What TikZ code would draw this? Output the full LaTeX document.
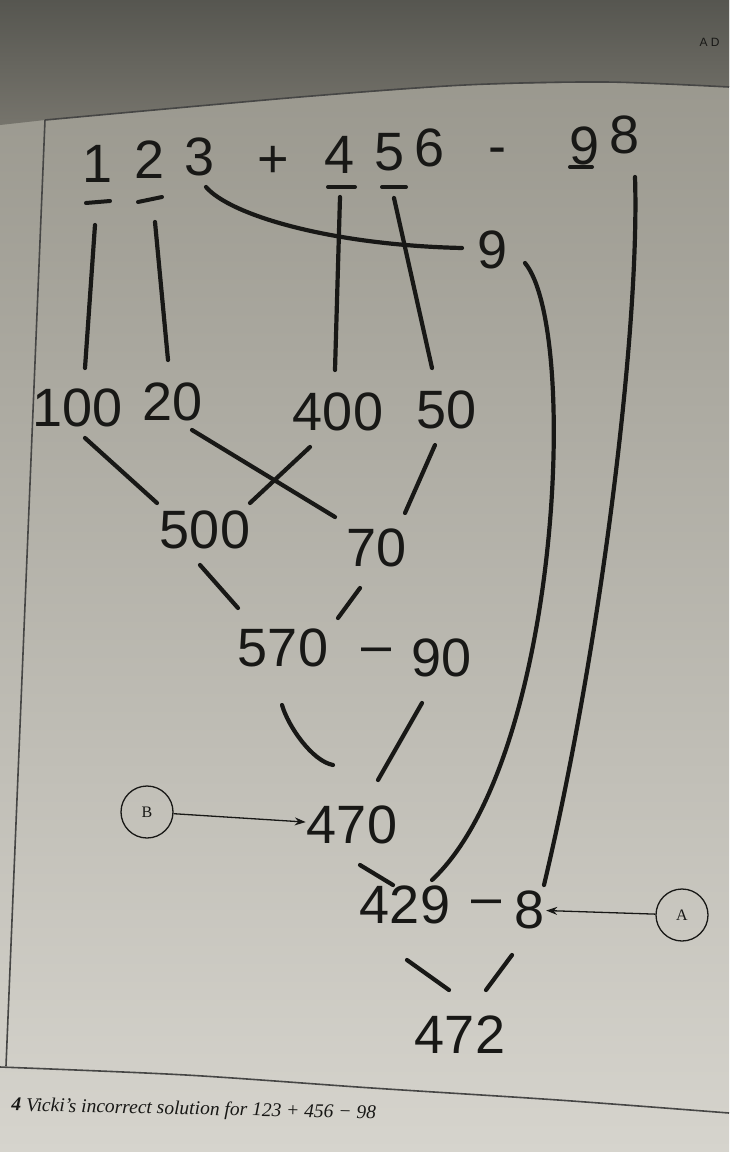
\documentclass[tikz,border=0pt]{standalone}
\usepackage{fontspec}
\setmainfont{Liberation Serif}
\setsansfont{Liberation Sans}
\usetikzlibrary{calc,arrows.meta}

\definecolor{ink}{RGB}{24,24,22}
\definecolor{page}{RGB}{198,196,188}
\definecolor{pagetop}{RGB}{150,148,138}
\definecolor{pagelow}{RGB}{214,212,205}
\definecolor{backdrop}{RGB}{86,86,80}
\definecolor{backdroplow}{RGB}{118,116,108}

\tikzset{
  num/.style={font=\sffamily\fontsize{54}{60}\selectfont, text=ink, inner sep=1pt},
  wire/.style={draw=ink, line width=4.2pt, line cap=round},
  bar/.style={draw=ink, line width=4pt, line cap=round},
  tag/.style={circle, draw=ink, line width=1.3pt, minimum size=52pt, inner sep=0pt,
    font=\rmfamily\fontsize{16}{18}\selectfont, text=ink},
  pointer/.style={draw=ink, line width=1.3pt, -{Stealth[length=11pt,width=8pt]}},
  rim/.style={draw=ink!80, line width=1.6pt}
}

\begin{document}
\begin{tikzpicture}[x=1pt,y=-1pt]
\useasboundingbox (0,0) rectangle (729,1152);
% photo of the page
\shade[top color=pagetop, middle color=page, bottom color=pagelow] (0,0) rectangle (729,1152);
\shade[top color=backdrop, bottom color=backdroplow]
  (0,0) -- (729,0) -- (729,87) -- (605,82) -- (465,85) -- (300,97) -- (45,120) -- (0,125) -- cycle;
\draw[rim] plot[smooth] coordinates {(45,120) (300,97) (465,85) (605,82) (729,87)};
\draw[rim] (45,120) -- (6,1066);
\draw[rim] plot[smooth] coordinates {(0,1067) (186,1075) (372,1088) (558,1100) (729,1113)};
\node[anchor=west, font=\sffamily\fontsize{12}{13}\selectfont, text=ink] (corner) at (696,42) {A D};

% the sum
\node[num] (d1) at (98,164) {1};
\node[num] (d2) at (150,160) {2};
\node[num] (d3) at (200,157) {3};
\node[num] (plus) at (273,162) {+};
\node[num] (d4) at (340,155) {4};
\node[num] (d5) at (390,152) {5};
\node[num] (d6) at (430,148) {6};
\node[num] (minus1) at (497,156) {-};
\node[num] (d9) at (585,146) {9};
\node[num] (d8) at (625,135) {8};

% underlines
\draw[bar] ($(d1)+(-12,39)$) -- ($(d1)+(12,37)$);
\draw[bar] ($(d2)+(-12,42)$) -- ($(d2)+(12,37)$);
\draw[bar] ($(d4)+(-12,32)$) -- ($(d4)+(15,32)$);
\draw[bar] ($(d5)+(-8,35)$) -- ($(d5)+(16,35)$);
\draw[bar] ($(d9)+(-15,21)$) -- ($(d9)+(7,21)$);

% partial sums
\node[num] (n9) at (493,250) {9};
\node[num] (n100) at (78,408) {100};
\node[num] (n20) at (173,402) {20};
\node[num] (n400) at (338,412) {400};
\node[num] (n50) at (447,410) {50};
\node[num] (n500) at (205,530) {500};
\node[num] (n70) at (377,548) {70};
\node[num] (n570) at (283,648) {570};
\node[num] (minus2) at (377,656) {–};
\node[num] (n90) at (442,658) {90};
\node[num] (n470) at (352,825) {470};
\node[num] (n429) at (405,905) {429};
\node[num] (minus3) at (487,908) {–};
\node[num] (n8) at (530,910) {8};
\node[num] (n472) at (460,1035) {472};

% labels
\node[tag] (B) at (147,812) {B};
\node[tag] (A) at (682,915) {A};
\draw[pointer] (B) -- (n470);
\draw[pointer] (A) -- (n8);

% splitting lines
\draw[wire] ($(d1)+(-3,61)$) -- ($(n100)+(7,-40)$);
\draw[wire] ($(d2)+(5,62)$) -- ($(n20)+(-5,-42)$);
\draw[wire] ($(d4)+(0,42)$) -- ($(n400)+(-3,-42)$);
\draw[wire] ($(d5)+(4,46)$) -- ($(n50)+(-15,-42)$);
\draw[wire] ($(d3)+(6,30)$) .. controls ($(d3)+(30,58)$) and ($(n9)+(-163,-5)$) .. ($(n9)+(-31,-2)$);
\draw[wire] ($(n9)+(32,13)$) .. controls ($(n9)+(87,80)$) and ($(n429)+(155,-145)$) .. ($(n429)+(27,-25)$);
\draw[wire] ($(d8)+(10,42)$) .. controls ($(d8)+(15,195)$) and ($(n8)+(70,-260)$) .. ($(n8)+(14,-25)$);

% adding up
\draw[wire] ($(n100)+(7,30)$) -- ($(n500)+(-48,-27)$);
\draw[wire] ($(n20)+(19,28)$) -- ($(n70)+(-42,-31)$);
\draw[wire] ($(n400)+(-28,35)$) -- ($(n500)+(45,-27)$);
\draw[wire] ($(n50)+(-12,35)$) -- ($(n70)+(28,-35)$);
\draw[wire] ($(n500)+(-5,35)$) -- ($(n570)+(-45,-40)$);
\draw[wire] ($(n70)+(-17,40)$) -- ($(n570)+(55,-30)$);
\draw[wire] ($(n570)+(-1,57)$) .. controls ($(n570)+(5,78)$) and ($(n470)+(-40,-64)$) .. ($(n470)+(-19,-60)$);
\draw[wire] ($(n90)+(-20,45)$) -- ($(n470)+(26,-45)$);
\draw[wire] ($(n470)+(8,40)$) -- ($(n429)+(-12,-20)$);
\draw[wire] ($(n429)+(2,55)$) -- ($(n472)+(-11,-45)$);
\draw[wire] ($(n8)+(-18,45)$) -- ($(n472)+(26,-45)$);

% caption
\node[anchor=west, rotate=-1.2, font=\rmfamily\itshape\fontsize{19.5}{22}\selectfont, text=ink] (caption) at (8,1106)
  {\textbf{4} Vicki's incorrect solution for 123 + 456 − 98};
\end{tikzpicture}
\end{document}
